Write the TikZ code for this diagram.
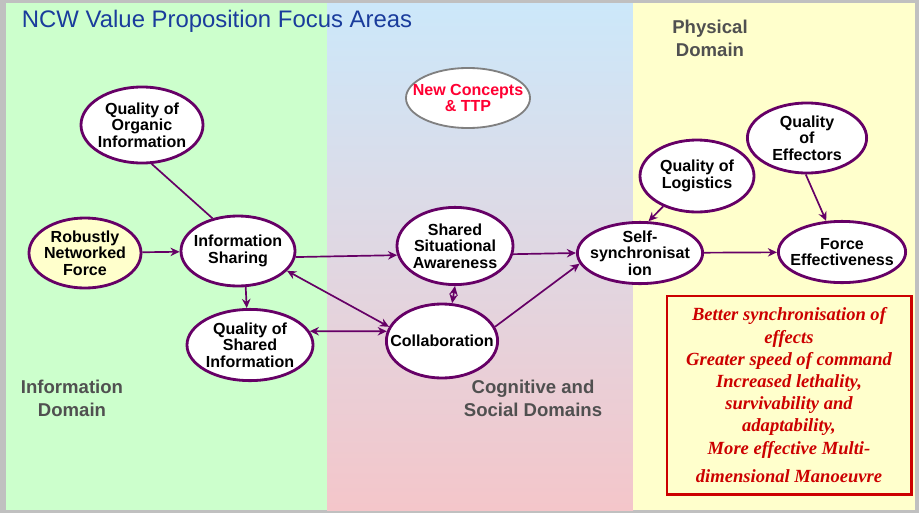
\documentclass[tikz,border=0pt]{standalone}
\usepackage{fontspec}
\setmainfont{Liberation Serif}
\setsansfont{Liberation Sans}
\usetikzlibrary{shapes.geometric,arrows.meta}

\definecolor{ncwpurple}{HTML}{660066}
\definecolor{framegrey}{HTML}{C0C0C0}
\definecolor{greenbg}{HTML}{CCFFCC}
\definecolor{bluebg}{HTML}{CCE8FA}
\definecolor{lilacbg}{HTML}{E6DCE8}
\definecolor{pinkbg}{HTML}{F4C6CA}
\definecolor{yellowbg}{HTML}{FFFFCC}
\definecolor{titleblue}{HTML}{1A3C9C}
\definecolor{domgrey}{HTML}{505050}
\definecolor{effectred}{HTML}{CC0000}
\definecolor{ttpred}{HTML}{FF0033}

\begin{document}
\begin{tikzpicture}[
    x=0.025cm, y=-0.025cm,
    >={Stealth[length=6.5pt,width=6pt]},
    ellnode/.style={ellipse, draw=ncwpurple, line width=2pt, fill=white, inner sep=-40pt,
      align=center, font=\sffamily\bfseries\fontsize{11.4}{11.8}\selectfont},
    domlabel/.style={align=center, text=domgrey, font=\sffamily\bfseries\fontsize{13.2}{16.4}\selectfont},
    linkedge/.style={draw=ncwpurple, line width=1.2pt},
]
\useasboundingbox (0,0) rectangle (919,513);

% background panels
\fill[framegrey] (0,0) rectangle (919,513);
\fill[greenbg] (6,3) rectangle (327,510);
\shade[top color=bluebg, middle color=lilacbg, bottom color=pinkbg] (327,3) rectangle (633,510);
\fill[yellowbg] (633,3) rectangle (915,510);

% titles
\node[anchor=west, text=titleblue, font=\sffamily\fontsize{17}{20}\selectfont] (title) at (17,21) {NCW Value Proposition Focus Areas};
\node[domlabel] (infodom) at (72,398) {Information\\Domain};
\node[domlabel] (cogdom) at (533,398) {Cognitive and\\Social Domains};
\node[domlabel] (physdom) at (710,38) {Physical\\Domain};

% information domain
\node[ellnode, minimum width=3.05cm, minimum height=1.9cm] (qoi) at (142,125) {Quality of\\Organic\\Information};
\node[ellnode, fill=yellowbg, minimum width=2.8cm, minimum height=1.75cm] (rnf) at (85,253) {Robustly\\Networked\\Force};
\node[ellnode, minimum width=2.85cm, minimum height=1.75cm] (is) at (238,251) {Information\\Sharing};
\node[ellnode, minimum width=3.15cm, minimum height=1.78cm] (qsi) at (250,345) {Quality of\\Shared\\Information};

% cognitive and social domains
\node[ellnode, draw=gray, line width=1.3pt, text=ttpred, minimum width=3.1cm, minimum height=1.5cm] (nct) at (468,98) {New Concepts\\\& TTP};
\node[ellnode, minimum width=2.9cm, minimum height=1.93cm] (ssa) at (455,246) {Shared\\Situational\\Awareness};
\node[ellnode, minimum width=2.78cm, minimum height=1.85cm] (collab) at (442,341) {Collaboration};

% physical domain
\node[ellnode, minimum width=3.13cm, minimum height=1.53cm] (self) at (640,253) {Self-\\synchronisat\\ion};
\node[ellnode, minimum width=2.85cm, minimum height=1.8cm] (ql) at (697,176) {Quality of\\Logistics};
\node[ellnode, minimum width=2.98cm, minimum height=1.75cm] (qe) at (807,138) {Quality\\of\\Effectors};
\node[ellnode, minimum width=3.18cm, minimum height=1.53cm] (fe) at (842,252) {Force\\Effectiveness};

% effects box
\node[draw=effectred, line width=2.1pt, fill=yellowbg, minimum width=6.1cm, minimum height=4.95cm,
  align=center, text=effectred, font=\bfseries\itshape\fontsize{13.2}{15.8}\selectfont] (effects) at (789,395)
  {Better synchronisation of\\effects\\Greater speed of command\\Increased lethality,\\survivability and\\adaptability,\\More effective Multi-\\[4pt]dimensional Manoeuvre};

% links
\draw[linkedge] (qoi.-76) -- (is.128);
\draw[linkedge, ->] (rnf) -- (is);
\draw[linkedge, ->] (is.-6) -- (ssa.189);
\draw[linkedge, ->] (is.-78) -- (qsi.95);
\draw[linkedge, <->] (is.-22) -- (collab.165);
\draw[linkedge, <->] (qsi.13) -- (collab.170);
\draw[linkedge, <->] (ssa.-90) -- (collab.75);
\draw[linkedge, ->] (ssa.-8) -- (self.west);
\draw[linkedge, ->] (collab.15) -- (self.190);
\draw[linkedge, ->] (ql.222) -- (self.75);
\draw[linkedge, ->] (qe.-92) -- (fe.117);
\draw[linkedge, ->] (self) -- (fe);

\end{tikzpicture}
\end{document}
